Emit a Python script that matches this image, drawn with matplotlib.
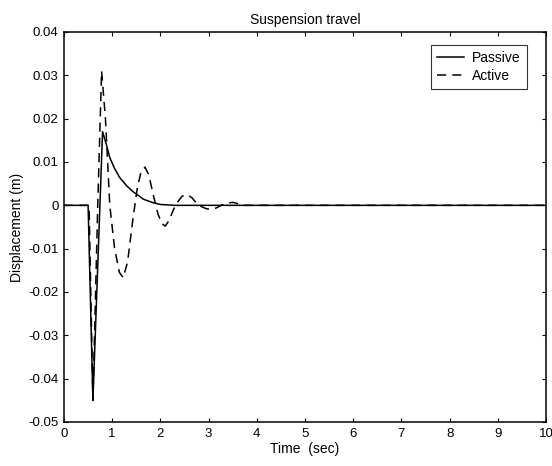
import matplotlib
matplotlib.use("Agg")
import matplotlib.pyplot as plt

# passive suspension travel (m) vs time (s)
t_passive = [0, 0.5, 0.6, 0.8, 0.88, 0.95, 1.05, 1.15, 1.3, 1.45, 1.65, 1.85, 2.0, 2.3, 10]
y_passive = [0, 0, -0.045, 0.017, 0.014, 0.011, 0.0085, 0.0065, 0.0045, 0.003,
             0.0014, 0.0006, 0.0002, 0, 0]

# active suspension travel (m) vs time (s)
t_active = [0, 0.52, 0.6, 0.7, 0.78, 0.86, 0.95, 1.05, 1.15, 1.23, 1.32, 1.42, 1.52,
            1.6, 1.68, 1.76, 1.86, 1.95, 2.03, 2.1, 2.18, 2.27, 2.36, 2.45, 2.55,
            2.65, 2.75, 2.85, 2.96, 3.06, 3.16, 3.28, 3.4, 3.5, 3.6, 3.75, 10]
y_active = [0, 0, -0.045, 0.0, 0.031, 0.02, 0.0, -0.01, -0.0155, -0.0167, -0.013,
            -0.004, 0.004, 0.0078, 0.0088, 0.007, 0.002, -0.002, -0.0042, -0.0048,
            -0.0035, -0.001, 0.0008, 0.0021, 0.0025, 0.0018, 0.0005, -0.0003,
            -0.0008, -0.0009, -0.0006, 0.0001, 0.0005, 0.0007, 0.0004, 0, 0]

x_ticks = list(range(0, 11))
y_ticks = [-0.05, -0.04, -0.03, -0.02, -0.01, 0, 0.01, 0.02, 0.03, 0.04]
y_labels = ["-0.05", "-0.04", "-0.03", "-0.02", "-0.01", "0", "0.01", "0.02", "0.03", "0.04"]

plt.rcParams["font.family"] = ["Liberation Sans", "DejaVu Sans"]
plt.rcParams["font.size"] = 9.5

fig = plt.figure(figsize=(5.52, 4.66), dpi=100)
ax = fig.add_axes([64 / 552, 1 - 422 / 466, (546 - 64) / 552, (422 - 32) / 466])

ax.plot(t_passive, y_passive, color="black", lw=1.1, label="Passive")
ax.plot(t_active, y_active, color="black", lw=1.1, ls=(0, (6, 4)), label="Active")

ax.set_xlim(0, 10)
ax.set_ylim(-0.05, 0.04)
ax.set_xticks(x_ticks)
ax.set_yticks(y_ticks)
ax.set_yticklabels(y_labels)
ax.tick_params(direction="in", top=True, right=True, length=3, width=0.8, pad=4)
for s in ax.spines.values():
    s.set_linewidth(1.1)

ax.set_title("Suspension travel", fontsize=10, pad=6)
ax.set_xlabel("Time  (sec)", fontsize=10, labelpad=2)
ax.set_ylabel("Displacement (m)", fontsize=10, labelpad=3)

leg = ax.legend(loc="upper right", bbox_to_anchor=(0.96, 0.967), borderaxespad=0,
                frameon=True, fancybox=False, edgecolor="black", handlelength=1.9,
                borderpad=0.45, labelspacing=0.25, handletextpad=0.6, fontsize=10)
leg.get_frame().set_linewidth(0.8)

fig.savefig("out.png", dpi=100)
